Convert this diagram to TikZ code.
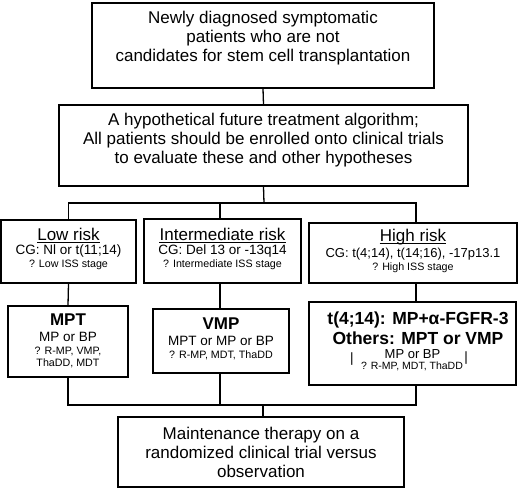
\documentclass[tikz,border=0pt]{standalone}
\usepackage{fontspec}
\setmainfont{Liberation Sans}
\begin{document}
\begin{tikzpicture}[x=1pt,y=-1pt,
  box/.style={draw=black,line width=1.3pt,inner sep=0pt},
  txt/.style={inner sep=0pt,align=center},
  big/.style={font=\fontsize{17}{19}\selectfont},
  hdr/.style={font=\fontsize{17}{19}\selectfont,inner sep=0pt,text depth=0pt},
  mid/.style={font=\fontsize{13.5}{15}\selectfont},
  sml/.style={font=\fontsize{10.7}{12}\selectfont},
  ul/.style={line width=0.9pt},
  con/.style={line width=1.3pt}]
\useasboundingbox[fill=white] (0,0) rectangle (520,490);
% top boxes
\node[box,minimum width=342,minimum height=85] (b1) at (263,45.5) {};
\node[txt,big] (t1) at (263,38) {Newly diagnosed symptomatic\\patients who are not\\candidates for stem cell transplantation};
\node[box,minimum width=409,minimum height=81] (b2) at (263.5,145.5) {};
\node[txt,big] (t2) at (263.5,140.5) {A hypothetical future treatment algorithm;\\All patients should be enrolled onto clinical trials\\to evaluate these and other hypotheses};
% risk boxes
\node[box,minimum width=135,minimum height=63] (low) at (68.5,251.5) {};
\node[hdr,anchor=base] (lowh) at (68.5,240) {Low risk};
\node[txt,mid] (lowc) at (68.5,251.5) {CG: Nl or t(11;14)};
\node[txt,sml] (lows) at (68.5,265) {? Low ISS stage};
\node[box,minimum width=157,minimum height=64] (int) at (222.5,251) {};
\node[hdr,anchor=base] (inth) at (222.5,240) {Intermediate risk};
\node[txt,mid] (intc) at (222.5,251.5) {CG: Del 13 or -13q14};
\node[txt,sml] (ints) at (222.5,265) {? Intermediate ISS stage};
\node[box,minimum width=208,minimum height=60] (high) at (413,253) {};
\node[hdr,anchor=base] (highh) at (413,241.5) {High risk};
\node[txt,font=\fontsize{13}{15}\selectfont] (highc) at (413,254.5) {CG: t(4;14), t(14;16), -17p13.1};
\node[txt,sml] (highs) at (413,268) {? High ISS stage};
\draw[ul] ([yshift=-2.5]lowh.base west) -- ([yshift=-2.5]lowh.base east);
\draw[ul] ([yshift=-2.5]inth.base west) -- ([yshift=-2.5]inth.base east);
\draw[ul] ([yshift=-2.2]highh.base west) -- ([yshift=-2.2]highh.base east);
% treatment boxes
\node[box,minimum width=120,minimum height=71] (mpt) at (68,341.5) {};
\node[txt,font=\fontsize{17}{19}\selectfont\bfseries] (mpth) at (68,320) {MPT};
\node[txt,mid] (mptc) at (68,337) {MP or BP};
\node[txt,sml] (mpts) at (68,357) {? R-MP, VMP,\\ThaDD, MDT};
\node[box,minimum width=136,minimum height=64] (vmp) at (221,341) {};
\node[txt,font=\fontsize{17}{19}\selectfont\bfseries] (vmph) at (221,323.5) {VMP};
\node[txt,mid] (vmpc) at (221,341) {MPT or MP or BP};
\node[txt,sml] (vmps) at (221,355) {? R-MP, MDT, ThaDD};
\node[box,minimum width=207,minimum height=83] (hb) at (412.5,343.5) {};
\node[txt,font=\fontsize{17.5}{20}\selectfont\bfseries] (hbh) at (418,328) {t(4;14): MP+α-FGFR-3\\Others: MPT or VMP};
\node[txt,font=\fontsize{13}{15}\selectfont] (hbc) at (412.5,354) {MP or BP};
\node[txt,font=\fontsize{10.5}{12}\selectfont] (hbs) at (412,366) {? R-MP, MDT, ThaDD};
\node[txt,mid] (bar1) at (352,359) {|};
\node[txt,mid] (bar2) at (466,358) {|};
% final box
\node[box,minimum width=286,minimum height=70] (fin) at (261,452) {};
\node[txt,big] (tf) at (261,452) {Maintenance therapy on a\\randomized clinical trial versus\\observation};
% connectors
\coordinate (bus1) at (264,203);
\coordinate (bus2) at (263,405);
\coordinate (xI) at (220,0);
\coordinate (xH) at (416,0);
\draw[con] (b1.south) -- (b2.north);
\draw[con] (b2.south) -- (bus1);
\draw[con] (low.north) |- (bus1);
\draw[con] (bus1) -| (high.north -| xH);
\draw[con] (int.north -| xI) -- (bus1 -| xI);
\draw[con] (low.south) -- (mpt.north);
\draw[con] (int.south -| xI) -- (vmp.north -| xI);
\draw[con] (high.south -| xH) -- (hb.north -| xH);
\draw[con] (mpt.south) |- (bus2);
\draw[con] (vmp.south -| xI) -- (bus2 -| xI);
\draw[con] (hb.south -| xH) |- (bus2);
\draw[con] (bus2) -- (fin.north -| bus2);
\end{tikzpicture}
\end{document}
